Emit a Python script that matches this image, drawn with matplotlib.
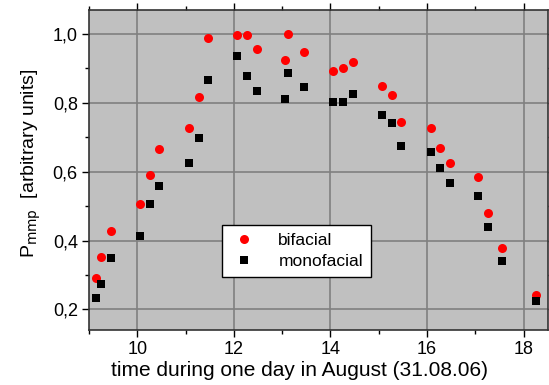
import numpy as np
import matplotlib
matplotlib.use("Agg")
import matplotlib.pyplot as plt
from matplotlib.ticker import MultipleLocator, FuncFormatter

plt.rcParams['font.family'] = ['Liberation Sans', 'DejaVu Sans']

# time of day (hours) and normalised P_mmp
time_bi = [9.15, 9.26, 9.46, 10.06, 10.26, 10.46, 11.07, 11.27, 11.47, 12.07, 12.27, 12.47,
           13.06, 13.13, 13.46, 14.06, 14.26, 14.46, 15.07, 15.27, 15.46, 16.07, 16.27, 16.47,
           17.06, 17.27, 17.56, 18.26]
p_bifacial = [0.290, 0.351, 0.427, 0.507, 0.589, 0.665, 0.726, 0.817, 0.990, 0.997, 0.997, 0.957,
              0.926, 1.001, 0.948, 0.892, 0.901, 0.918, 0.848, 0.824, 0.744, 0.728, 0.670, 0.624,
              0.586, 0.480, 0.377, 0.243]

time_mono = time_bi
p_monofacial = [0.233, 0.275, 0.349, 0.412, 0.507, 0.557, 0.624, 0.699, 0.868, 0.937, 0.878, 0.835,
                0.812, 0.887, 0.846, 0.803, 0.802, 0.825, 0.766, 0.743, 0.675, 0.658, 0.611, 0.566,
                0.528, 0.439, 0.339, 0.224]

fig = plt.figure(figsize=(5.49, 3.85), dpi=100)
ax = fig.add_axes([0.162, 0.143, 0.836, 0.831])
ax.set_facecolor('#c0c0c0')

ax.plot(time_bi, p_bifacial, 'o', color='#ff0000', markersize=6.5, markeredgewidth=0, label='bifacial', zorder=3)
ax.plot(time_mono, p_monofacial, 's', color='black', markersize=6, markeredgewidth=0, label='monofacial', zorder=3)

ax.set_xlim(9.0, 18.5)
ax.set_ylim(0.14, 1.07)

ax.xaxis.set_major_locator(MultipleLocator(2))
ax.xaxis.set_minor_locator(MultipleLocator(1))
ax.yaxis.set_major_locator(MultipleLocator(0.2))
ax.yaxis.set_minor_locator(MultipleLocator(0.1))
ax.yaxis.set_major_formatter(FuncFormatter(lambda v, pos: f"{v:.1f}".replace('.', ',')))

ax.grid(True, which='major', color='#808080', linewidth=1.2, zorder=1)
ax.set_axisbelow(True)
ax.tick_params(which='both', direction='out', labelsize=13, top=True, right=True,
               labeltop=False, labelright=False)
ax.tick_params(which='major', length=5, width=1, pad=3)
ax.tick_params(which='minor', length=3, width=1)
for s in ax.spines.values():
    s.set_linewidth(1.2)
    s.set_color('#333333')

ax.set_xlabel('time during one day in August (31.08.06)', fontsize=15)
ax.set_ylabel('P$_{\\mathrm{mmp}}$  [arbitrary units]', fontsize=14)
ax.xaxis.set_label_coords(0.459, -0.098)
ax.yaxis.set_label_coords(-0.1, 0.52)

leg = ax.legend(loc='center', bbox_to_anchor=(0.452, 0.247), fontsize=12.5, frameon=True,
                fancybox=False, edgecolor='black', framealpha=1, handletextpad=1.2,
                borderpad=0.45, labelspacing=0.35, handlelength=1.6)
leg.get_frame().set_linewidth(1.0)

fig.savefig('out.png', dpi=100)
